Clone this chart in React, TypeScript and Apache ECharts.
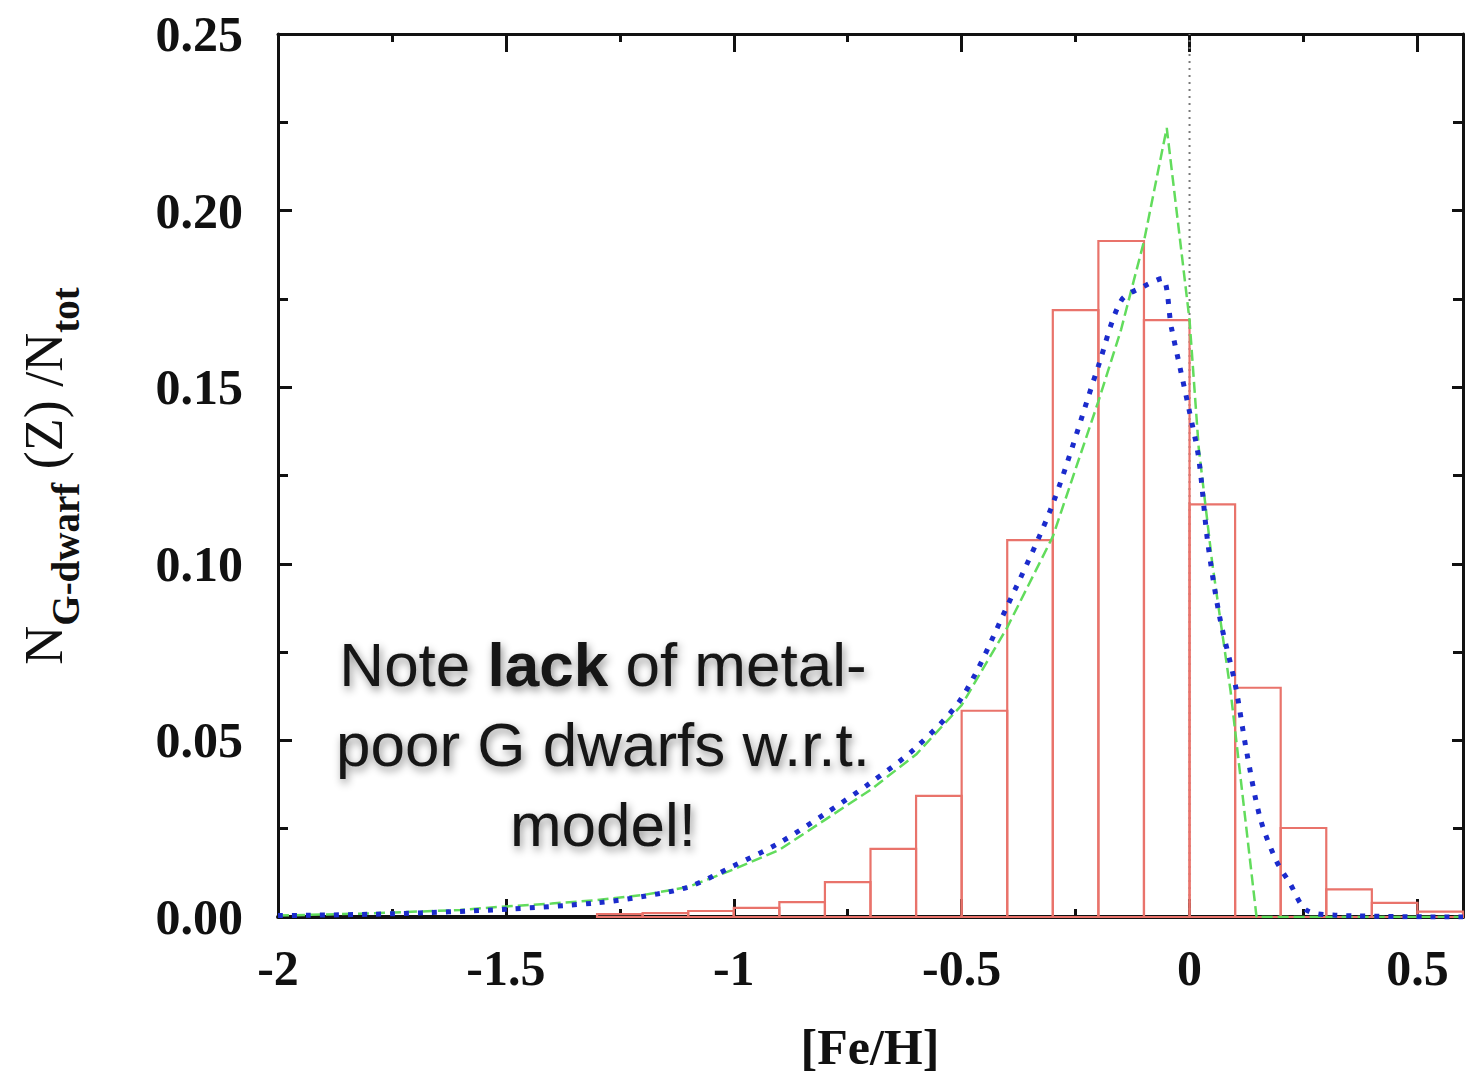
import React, { useEffect, useRef } from 'react';
import * as echarts from 'echarts';

// Histogram: left edges of 0.1-dex [Fe/H] bins and observed fraction
const binLefts = [-1.3, -1.2, -1.1, -1.0, -0.9, -0.8, -0.7, -0.6, -0.5, -0.4, -0.3, -0.2, -0.1, 0.0, 0.1, 0.2, 0.3, 0.4, 0.5];
const binWidth = 0.1;
const observedFrac = [0.0008, 0.0011, 0.0017, 0.0026, 0.0042, 0.0099, 0.0193, 0.0343, 0.0584, 0.1067, 0.1718, 0.1914, 0.169, 0.1168, 0.0649, 0.0252, 0.0078, 0.004, 0.0015];

// Green dashed model
const greenX = [-2.0, -1.8, -1.6, -1.5, -1.4, -1.3, -1.2, -1.1, -1.0, -0.9, -0.8, -0.7, -0.6, -0.5, -0.4, -0.3, -0.2, -0.15, -0.1, -0.05, 0.0, 0.02, 0.05, 0.09, 0.115, 0.147, 0.6];
const greenY = [0.0004, 0.001, 0.002, 0.003, 0.0038, 0.0048, 0.0062, 0.0085, 0.0135, 0.019, 0.0275, 0.036, 0.046, 0.06, 0.082, 0.1077, 0.146, 0.1664, 0.1913, 0.2234, 0.169, 0.133, 0.1, 0.064, 0.036, 0.0, 0.0];

// Blue dotted model
const blueX = [-2.0, -1.75, -1.5, -1.3, -1.2, -1.1, -1.0, -0.9, -0.8, -0.7, -0.6, -0.5, -0.4, -0.3, -0.2, -0.15, -0.1, -0.06, -0.04, -0.02, 0.0, 0.02, 0.04, 0.066, 0.1, 0.125, 0.155, 0.19, 0.22, 0.256, 0.32, 0.6];
const blueY = [0.0004, 0.0009, 0.0022, 0.004, 0.0058, 0.0085, 0.0145, 0.021, 0.0292, 0.038, 0.048, 0.062, 0.088, 0.117, 0.156, 0.1745, 0.1786, 0.1808, 0.167, 0.155, 0.143, 0.13, 0.106, 0.085, 0.066, 0.047, 0.028, 0.016, 0.0096, 0.002, 0.0005, 0.0];

const xTickValues = [-2, -1.5, -1, -0.5, 0, 0.5];
const xTickLabels = ['-2', '-1.5', '-1', '-0.5', '0', '0.5'];
const yTickValues = [0, 0.05, 0.1, 0.15, 0.2, 0.25];
const yTickLabels = ['0.00', '0.05', '0.10', '0.15', '0.20', '0.25'];

const SERIF = 'Liberation Serif, Times New Roman, serif';
const SANS = 'Liberation Sans, Arial, Helvetica, sans-serif';

export default function App() {
  const ref = useRef<HTMLDivElement>(null);
  useEffect(() => {
    document.body.style.margin = '0';
    if (!ref.current) return;
    const chart = echarts.init(ref.current, null, { renderer: 'svg' });

    const xFmt = (v: number) => {
      const i = xTickValues.findIndex((t) => Math.abs(t - v) < 1e-6);
      return i >= 0 ? xTickLabels[i] : '';
    };
    const yFmt = (v: number) => {
      const i = yTickValues.findIndex((t) => Math.abs(t - v) < 1e-6);
      return i >= 0 ? yTickLabels[i] : '';
    };

    const axisColor = '#111';
    const frameLine = (w: number) => ({ show: true, onZero: false, lineStyle: { color: axisColor, width: w } });

    const shadow = {
      textShadowColor: 'rgba(0,0,0,0.45)',
      textShadowBlur: 8,
      textShadowOffsetX: 2,
      textShadowOffsetY: 4,
    };

    chart.setOption({
      animation: false,
      backgroundColor: '#ffffff',
      grid: { left: 278, right: 14, top: 34, bottom: 164, containLabel: false },
      xAxis: [
        {
          type: 'value', min: -2, max: 0.6, interval: 0.5, position: 'bottom',
          axisLine: frameLine(4),
          axisTick: { show: true, inside: true, length: 18, lineStyle: { color: axisColor, width: 3 } },
          minorTick: { show: true, splitNumber: 2, length: 8, lineStyle: { color: axisColor, width: 3 } },
          splitLine: { show: false },
          axisLabel: { show: true, margin: 26, fontFamily: SERIF, fontWeight: 'bold', fontSize: 50, color: axisColor, formatter: xFmt },
        },
        {
          type: 'value', min: -2, max: 0.6, interval: 0.5, position: 'top',
          axisLine: frameLine(3),
          axisTick: { show: true, inside: true, length: 18, lineStyle: { color: axisColor, width: 3 } },
          minorTick: { show: true, splitNumber: 2, length: 8, lineStyle: { color: axisColor, width: 3 } },
          splitLine: { show: false },
          axisLabel: { show: false },
        },
      ],
      yAxis: [
        {
          type: 'value', min: 0, max: 0.25, interval: 0.05, position: 'left',
          axisLine: frameLine(3),
          axisTick: { show: true, inside: true, length: 14, lineStyle: { color: axisColor, width: 3 } },
          minorTick: { show: true, splitNumber: 2, length: 10, lineStyle: { color: axisColor, width: 3 } },
          splitLine: { show: false },
          axisLabel: { show: true, margin: 35, fontFamily: SERIF, fontWeight: 'bold', fontSize: 50, color: axisColor, formatter: yFmt },
        },
        {
          type: 'value', min: 0, max: 0.25, interval: 0.05, position: 'right',
          axisLine: frameLine(3),
          axisTick: { show: true, inside: true, length: 11, lineStyle: { color: axisColor, width: 3 } },
          minorTick: { show: true, splitNumber: 2, length: 10, lineStyle: { color: axisColor, width: 3 } },
          splitLine: { show: false },
          axisLabel: { show: false },
        },
      ],
      series: [
        {
          type: 'line',
          name: 'zero',
          xAxisIndex: 0, yAxisIndex: 0,
          data: [[0, 0], [0, 0.25]],
          symbol: 'none',
          lineStyle: { color: '#7a7a7a', width: 2, type: [2, 5] },
          z: 1,
        },
        {
          type: 'custom',
          name: 'observed',
          xAxisIndex: 0, yAxisIndex: 0,
          encode: { x: [0, 1], y: 2 },
          data: binLefts.map((l, i) => [l, l + binWidth, observedFrac[i]]),
          renderItem: (params: any, api: any) => {
            const p0 = api.coord([api.value(0), api.value(2)]);
            const p1 = api.coord([api.value(1), 0]);
            return {
              type: 'rect',
              shape: { x: p0[0], y: p0[1], width: p1[0] - p0[0], height: p1[1] - p0[1] },
              style: { fill: 'none', stroke: '#e9736b', lineWidth: 2.2 },
            };
          },
          z: 2,
        },
        {
          type: 'line',
          name: 'model A',
          xAxisIndex: 0, yAxisIndex: 0,
          data: greenX.map((x, i) => [x, greenY[i]]),
          symbol: 'none',
          smooth: false,
          lineStyle: { color: '#62dc5c', width: 2.5, type: [11, 5] },
          z: 3,
        },
        {
          type: 'line',
          name: 'model B',
          xAxisIndex: 0, yAxisIndex: 0,
          data: blueX.map((x, i) => [x, blueY[i]]),
          symbol: 'none',
          smooth: 0.3,
          lineStyle: { color: '#1b2bcc', width: 5, type: [5, 9] },
          z: 4,
        },
      ],
      graphic: [
        {
          type: 'text',
          x: 870, y: 1047,
          style: {
            text: '[Fe/H]',
            font: `bold 50px ${SERIF}`,
            fill: '#111',
            textAlign: 'center',
            textVerticalAlign: 'middle',
          },
        },
        {
          type: 'text',
          x: 51, y: 476,
          rotation: Math.PI / 2,
          style: {
            text: '{n|N}{s|G-dwarf}{n| (Z) /N}{s|tot}',
            fill: '#111',
            textAlign: 'center',
            textVerticalAlign: 'middle',
            fontFamily: SERIF,
            fontSize: 54,
            rich: {
              n: { fontFamily: SERIF, fontSize: 54, fontWeight: 'normal', fill: '#111', verticalAlign: 'bottom', padding: [0, 0, 14, 0] },
              s: { fontFamily: SERIF, fontSize: 39, fontWeight: 'bold', fill: '#111', verticalAlign: 'bottom', padding: [0, 0, 0, 0] },
            },
          },
        },
        {
          type: 'text',
          x: 603, y: 744,
          z: 100,
          style: {
            text: 'Note {b|lack} of metal-\npoor G dwarfs w.r.t.\nmodel!',
            fontFamily: SANS,
            fontSize: 62,
            lineHeight: 80,
            fill: '#151515',
            textAlign: 'center',
            textVerticalAlign: 'middle',
            ...shadow,
            rich: {
              b: { fontFamily: SANS, fontSize: 62, fontWeight: 'bold', lineHeight: 80, fill: '#151515', ...shadow },
            },
          },
        },
      ],
    });

    return () => chart.dispose();
  }, []);

  return <div ref={ref} style={{ width: 1477, height: 1081 }} />;
}
